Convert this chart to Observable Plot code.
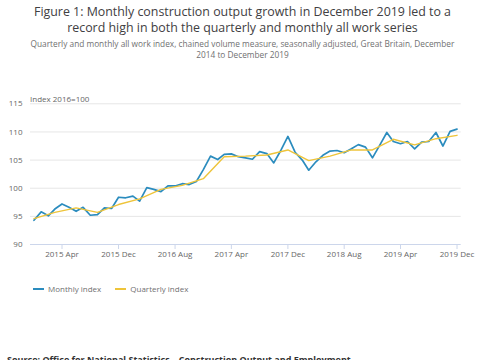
<!DOCTYPE html>
<html>
<head>
<meta charset="utf-8">
<script src="https://cdn.jsdelivr.net/npm/d3@7"></script>
<script src="https://cdn.jsdelivr.net/npm/@observablehq/plot@0.6"></script>
<style>
  html, body { margin: 0; padding: 0; background: #fff; }
  #page { position: relative; width: 485px; height: 360px; overflow: hidden; font-family: "Open Sans", sans-serif; }
  #title { position: absolute; left: 0; top: 4px; width: 485px; text-align: center; font-size: 12.4px; line-height: 16px; color: #414042; white-space: nowrap; }
  #subtitle { position: absolute; left: 0; top: 38px; width: 485px; text-align: center; font-size: 8.3px; line-height: 11px; color: #707071; white-space: nowrap; }
  #unit { position: absolute; left: 30px; top: 93px; font-size: 8px; color: #666; }
  #chart { position: absolute; left: 0; top: 80px; }
  #legend { position: absolute; left: 33px; top: 283px; font-size: 8px; color: #707071; display: flex; align-items: center; }
  .sw { display: inline-block; width: 11px; height: 2px; margin-right: 4px; }
  .item { display: flex; align-items: center; margin-right: 14px; }
  #source { position: absolute; left: 7px; top: 353px; font-size: 9px; font-weight: bold; color: #333; white-space: nowrap; }
</style>
</head>
<body>
<div id="page">
  <div id="title">Figure 1: Monthly construction output growth in December 2019 led to a<br>record high in both the quarterly and monthly all work series</div>
  <div id="subtitle">Quarterly and monthly all work index, chained volume measure, seasonally adjusted, Great Britain, December<br>2014 to December 2019</div>
  <div id="unit">Index 2016=100</div>
  <div id="chart"></div>
  <div id="legend"></div>
  <div id="source">Source: Office for National Statistics – Construction Output and Employment</div>
</div>
<script>
// Monthly all work index, Dec 2014 .. Dec 2019
const monthlyValues = [
  94.3, 95.8, 95.1, 96.3, 97.2, 96.6, 95.9, 96.6, 95.2, 95.3, 96.5, 96.4,
  98.4, 98.3, 98.6, 97.7, 100.1, 99.8, 99.4, 100.4, 100.4, 100.8, 100.65, 101.2,
  103.3, 105.7, 105.1, 106.0, 106.1, 105.6, 105.4, 105.15, 106.5, 106.15, 104.5, 106.75,
  109.2, 106.4, 105.0, 103.2, 104.7, 105.85, 106.6, 106.7, 106.3, 107.0, 107.75, 107.3,
  105.4, 107.6, 109.9, 108.3, 107.9, 108.3, 107.0, 108.2, 108.3, 109.9, 107.5, 110.1,
  110.5
];
// Quarterly all work index, Q4 2014 .. Q4 2019 (plotted at quarter's last month)
const quarterlyValues = [
  94.6, 95.7, 96.5, 95.7, 97.1, 98.1, 99.8, 100.5, 101.7, 105.6, 105.7,
  105.9, 106.8, 104.9, 105.7, 106.8, 106.8, 108.7, 107.7, 108.8, 109.4
];
const seriesNames = ["Monthly index", "Quarterly index"];
const seriesColors = ["#2b8cbe", "#eec43a"];
const xTickLabels = ["2015 Apr", "2015 Dec", "2016 Aug", "2017 Apr", "2017 Dec", "2018 Aug", "2019 Apr", "2019 Dec"];
const yTicks = [90, 95, 100, 105, 110, 115];

const monthly = monthlyValues.map((v, i) => ({date: new Date(Date.UTC(2014, 11 + i, 1)), value: v}));
const quarterly = quarterlyValues.map((v, i) => ({date: new Date(Date.UTC(2014, 11 + 3 * i, 1)), value: v}));
const parseTick = d3.utcParse("%Y %b");
const xTicks = xTickLabels.map(parseTick);
const fmt = d3.utcFormat("%Y %b");

const chart = Plot.plot({
  width: 485,
  height: 200,
  marginTop: 23.3,
  marginBottom: 36,
  marginLeft: 30,
  marginRight: 24.3,
  style: {fontFamily: "Open Sans, sans-serif", fontSize: "8px", background: "transparent", overflow: "visible"},
  x: {type: "utc", domain: [new Date(Date.UTC(2014, 10, 16)), new Date(Date.UTC(2019, 11, 19))]},
  y: {domain: [90, 115]},
  marks: [
    Plot.gridY(yTicks.filter(v => v > 90), {stroke: "#e6e6e6", strokeOpacity: 1}),
    Plot.ruleY([90], {stroke: "#ccd6eb"}),
    Plot.axisY({ticks: yTicks, tickSize: 0, tickPadding: 8, label: null, fill: "#666"}),
    Plot.axisX({ticks: xTicks, tickFormat: fmt, tickSize: 5, tickPadding: 2, label: null, stroke: "#ccd6eb", strokeOpacity: 1, fill: "#666"}),
    Plot.line(monthly, {x: "date", y: "value", stroke: seriesColors[0], strokeWidth: 1.7}),
    Plot.line(quarterly, {x: "date", y: "value", stroke: seriesColors[1], strokeWidth: 1.4})
  ]
});
document.getElementById("chart").appendChild(chart);

const legend = document.getElementById("legend");
seriesNames.forEach((n, i) => {
  const it = document.createElement("span");
  it.className = "item";
  const sw = document.createElement("span");
  sw.className = "sw";
  sw.style.background = seriesColors[i];
  it.appendChild(sw);
  it.appendChild(document.createTextNode(n));
  legend.appendChild(it);
});
</script>
</body>
</html>
